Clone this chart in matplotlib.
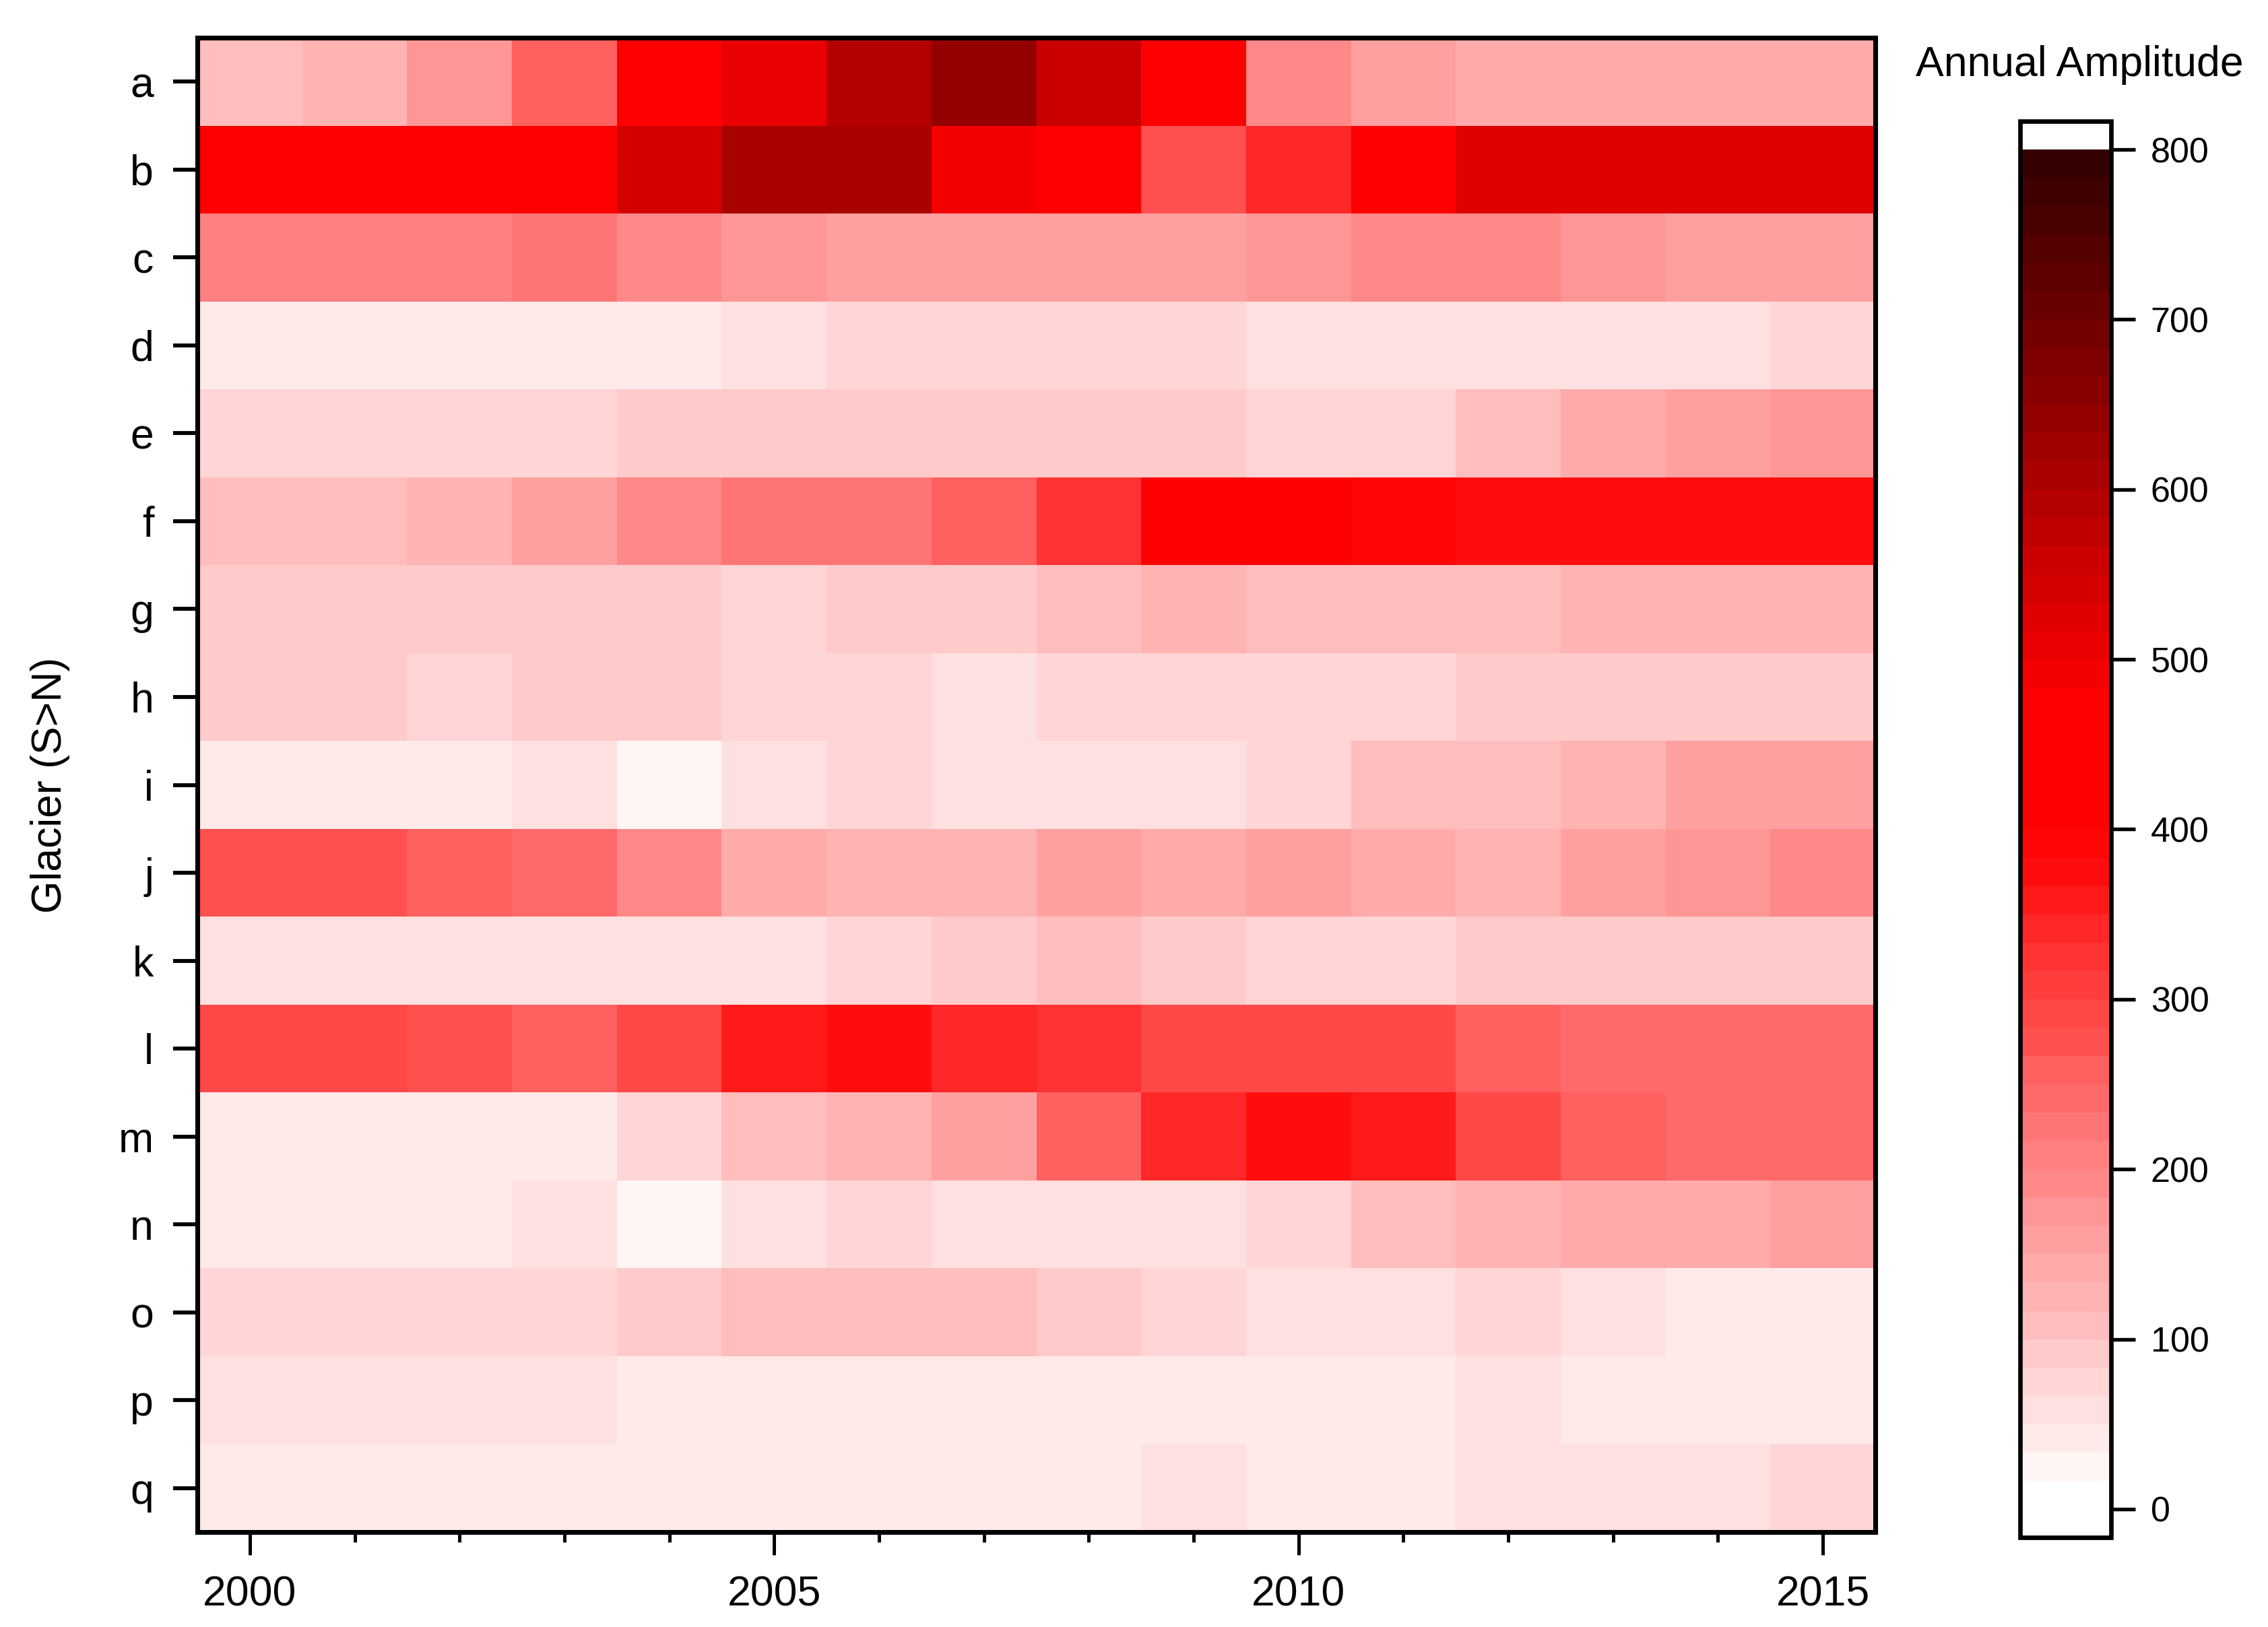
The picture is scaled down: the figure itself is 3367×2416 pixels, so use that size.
import numpy as np
import matplotlib
matplotlib.use("Agg")
import matplotlib.pyplot as plt
from matplotlib.colors import ListedColormap, BoundaryNorm
from matplotlib.ticker import MultipleLocator

plt.rcParams['font.family'] = ['Liberation Sans', 'DejaVu Sans']

# Data: annual amplitude per glacier (rows, south to north) and year
years = list(range(2000, 2016))
glaciers = list("abcdefghijklmnopq")

amp_a = [108, 125, 175, 258, 430, 508, 591, 641, 558, 430, 191, 158, 141, 141, 141, 141]
amp_b = [430, 430, 430, 430, 541, 608, 608, 491, 430, 275, 341, 430, 525, 525, 525, 525]
amp_c = [208, 208, 208, 225, 191, 175, 158, 158, 158, 158, 175, 191, 191, 175, 158, 158]
amp_d = [41, 41, 41, 41, 41, 58, 75, 75, 75, 75, 58, 58, 58, 58, 58, 75]
amp_e = [75, 75, 75, 75, 91, 91, 91, 91, 91, 91, 75, 75, 108, 141, 158, 175]
amp_f = [108, 108, 125, 158, 191, 225, 225, 258, 325, 430, 430, 391, 375, 375, 375, 375]
amp_g = [91, 91, 91, 91, 91, 75, 91, 91, 108, 125, 108, 108, 108, 125, 125, 125]
amp_h = [91, 91, 75, 91, 91, 75, 75, 58, 75, 75, 75, 75, 91, 91, 91, 91]
amp_i = [41, 41, 41, 58, 25, 58, 75, 58, 58, 58, 75, 108, 108, 125, 158, 158]
amp_j = [275, 275, 258, 241, 191, 141, 125, 125, 158, 141, 158, 141, 125, 158, 175, 191]
amp_k = [58, 58, 58, 58, 58, 58, 75, 91, 108, 91, 75, 75, 91, 91, 91, 91]
amp_l = [291, 291, 275, 258, 291, 358, 375, 341, 325, 291, 291, 291, 258, 241, 241, 241]
amp_m = [41, 41, 41, 41, 75, 108, 125, 158, 258, 341, 375, 358, 291, 258, 241, 241]
amp_n = [41, 41, 41, 58, 25, 58, 75, 58, 58, 58, 75, 108, 125, 141, 141, 158]
amp_o = [75, 75, 75, 75, 91, 108, 108, 108, 91, 75, 58, 58, 75, 58, 41, 41]
amp_p = [58, 58, 58, 58, 41, 41, 41, 41, 41, 41, 41, 41, 58, 41, 41, 41]
amp_q = [41, 41, 41, 41, 41, 41, 41, 41, 41, 58, 41, 41, 58, 58, 58, 75]

cbar_ticks = [0, 100, 200, 300, 400, 500, 600, 700, 800]

Z = np.array([amp_a, amp_b, amp_c, amp_d, amp_e, amp_f, amp_g, amp_h, amp_i,
              amp_j, amp_k, amp_l, amp_m, amp_n, amp_o, amp_p, amp_q])

# stepped white -> red -> dark red colour table, 48 steps over 0..800
step = 800 / 48
light_g = [255, 245, 234, 224, 213, 202, 189, 179, 171, 160, 150, 136, 128,
           117, 105, 96, 80, 72, 61, 51, 39, 26, 13, 5]
cols = [(1, 1, 1)]
for i in range(48):
    if i < len(light_g):
        cols.append((1, light_g[i] / 255, light_g[i] / 255))
    elif i <= 28:
        cols.append((1, 0, 0))
    else:
        cols.append(((255 - 10.7 * (i - 28)) / 255, 0, 0))
cols.append((1, 1, 1))
cmap = ListedColormap(cols)
bounds = np.linspace(-step, 800 + step, 51)
norm = BoundaryNorm(bounds, cmap.N)

W, H = 3367, 2416
fig = plt.figure(figsize=(W / 300, H / 300), dpi=300)
ax = fig.add_axes([293 / W, 1 - 2275 / H, 2491 / W, 2219 / H])
cax = fig.add_axes([2999 / W, 1 - 2283 / H, 135 / W, 2103 / H])

xe = np.arange(years[0] - 0.5, years[-1] + 1.0, 1.0)
ye = np.arange(len(glaciers) + 1) - 0.5
mesh = ax.pcolormesh(xe, ye, Z, cmap=cmap, norm=norm)
ax.set_xlim(xe[0], xe[-1])
ax.set_ylim(ye[-1], ye[0])

ax.set_yticks(range(len(glaciers)))
ax.set_yticklabels(glaciers)
ax.set_xticks([2000, 2005, 2010, 2015])
ax.xaxis.set_minor_locator(MultipleLocator(1))
ax.tick_params(axis='y', direction='out', length=8.6, width=1.4, pad=7, labelsize=15)
ax.tick_params(axis='x', which='major', direction='out', length=8.2, width=1.2, pad=7, labelsize=15)
ax.tick_params(axis='x', which='minor', direction='out', length=3.6, width=1.2)
for s in ax.spines.values():
    s.set_linewidth(1.7)

ax.set_ylabel("Glacier (S>N)", fontsize=15)
ax.yaxis.set_label_coords(-0.076, 0.5)

cb = fig.colorbar(mesh, cax=cax, ticks=cbar_ticks)
cb.outline.set_linewidth(1.6)
cax.minorticks_off()
cax.tick_params(direction='out', length=8.6, width=1.3, pad=5.5, labelsize=12.5)
fig.text(3087 / W, 1 - 97 / H, "Annual Amplitude", ha='center', va='center', fontsize=15)

fig.savefig("out.png", dpi=300)
